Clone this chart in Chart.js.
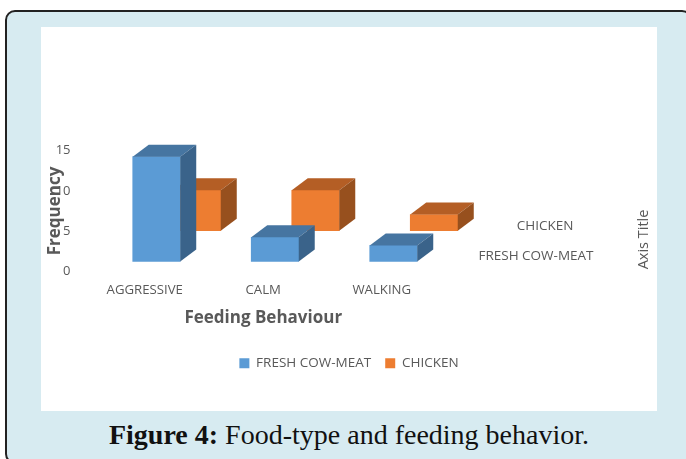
<!DOCTYPE html>
<html>
<head>
    <style>
        body, html {
            width: 686px;
            height: 459px;
            margin: 0;
            overflow: hidden;
            background: #ffffff;
        }

        #card {
            position: absolute;
            left: 5px;
            top: 10px;
            width: 683px;
            height: 450px;
            background: #d7ebf1;
            border: 2px solid #222222;
            border-radius: 10px;
        }

        #chartBox {
            position: absolute;
            left: 41px;
            top: 27px;
            width: 616px;
            height: 384px;
            background: #ffffff;
        }

        #caption {
            position: absolute;
            left: 0;
            top: 419px;
            width: 698px;
            text-align: center;
            font-family: "Liberation Serif", serif;
            font-size: 28px;
            line-height: 32px;
            color: #111111;
        }
    </style>
    <script src="https://cdn.jsdelivr.net/npm/chart.js"></script>
</head>
<body>
    <div id="card"></div>
    <div id="chartBox">
        <canvas id="feedingChart" width="616" height="384"></canvas>
    </div>
    <div id="caption"><b>Figure 4:</b> Food-type and feeding behavior.</div>

    <script>
        const categories = ["AGGRESSIVE", "CALM", "WALKING"];
        const freshCowMeat = [13, 3, 2];
        const chicken = [5, 5, 2];
        const yTicks = [0, 5, 10, 15];

        const textFont = '"Open Sans", sans-serif';
        const textColor = "#595959";

        // how far each face is pushed back, the chart is a flat bar chart with faces added
        const depthX = 16;
        const depthY = 12;

        function shade(ctx, points, color) {
            ctx.fillStyle = color;
            ctx.beginPath();
            points.forEach(function(p, i) {
                if (i === 0) ctx.moveTo(p[0], p[1]);
                else ctx.lineTo(p[0], p[1]);
            });
            ctx.closePath();
            ctx.fill();
        }

        const faces3d = {
            id: "faces3d",
            afterDatasetDraw: function(chart, args) {
                const ctx = chart.ctx;
                const ds = chart.data.datasets[args.index];
                args.meta.data.forEach(function(bar) {
                    const l = bar.x - bar.width / 2;
                    const r = bar.x + bar.width / 2;
                    const t = bar.y;
                    const b = bar.base;
                    shade(ctx, [[l, t], [r, t], [r + depthX, t - depthY], [l + depthX, t - depthY]], ds.topColor);
                    shade(ctx, [[r, t], [r + depthX, t - depthY], [r + depthX, b - depthY], [r, b]], ds.sideColor);
                });
            }
        };

        // labels of the depth axis, on the right of the floor
        const depthAxis = {
            id: "depthAxis",
            afterDraw: function(chart) {
                const ctx = chart.ctx;
                const area = chart.chartArea;
                ctx.save();
                ctx.fillStyle = textColor;
                ctx.font = "13.5px " + textFont;
                ctx.textAlign = "center";
                ctx.textBaseline = "middle";
                ctx.fillText("CHICKEN", area.right + 104, area.bottom - 45);
                ctx.fillText("FRESH COW-MEAT", area.right + 95, area.bottom - 15);
                ctx.font = "14.5px " + textFont;
                ctx.translate(area.right + 203, area.bottom - 32);
                ctx.rotate(-Math.PI / 2);
                ctx.fillText("Axis Title", 0, 0);
                ctx.restore();
            }
        };

        function points(values) {
            return values.map(function(v, i) {
                return { x: i, y: v };
            });
        }

        new Chart(document.getElementById("feedingChart"), {
            type: "bar",
            data: {
                labels: categories,
                datasets: [
                    {
                        label: "FRESH COW-MEAT",
                        data: points(freshCowMeat),
                        backgroundColor: "#5b9bd5",
                        topColor: "#4675a1",
                        sideColor: "#3a638a",
                        xAxisID: "xFront",
                        yAxisID: "yFront",
                        barThickness: 47.5,
                        grouped: false,
                        clip: false
                    },
                    {
                        label: "CHICKEN",
                        data: points(chicken),
                        backgroundColor: "#ed7d31",
                        topColor: "#b45e25",
                        sideColor: "#97501e",
                        xAxisID: "xBack",
                        yAxisID: "yBack",
                        barThickness: 47.5,
                        grouped: false,
                        clip: false
                    }
                ]
            },
            plugins: [faces3d, depthAxis],
            options: {
                responsive: false,
                animation: false,
                layout: {
                    padding: { top: 123.5, right: 0, bottom: 31, left: 0 }
                },
                plugins: {
                    tooltip: { enabled: false },
                    legend: {
                        position: "bottom",
                        labels: {
                            boxWidth: 10,
                            boxHeight: 10,
                            padding: 14,
                            color: textColor,
                            font: { family: textFont, size: 13.5 }
                        }
                    }
                },
                scales: {
                    x: {
                        type: "category",
                        position: "bottom",
                        grid: { display: false, drawTicks: false },
                        border: { display: false },
                        ticks: {
                            color: textColor,
                            padding: 11,
                            maxRotation: 0,
                            font: { family: textFont, size: 13.2 }
                        },
                        title: {
                            display: true,
                            text: "Feeding Behaviour",
                            color: textColor,
                            padding: { top: 10, bottom: 14 },
                            font: { family: textFont, size: 17, weight: "bold" }
                        },
                        afterFit: function(scale) { scale.height = 71; }
                    },
                    y: {
                        position: "left",
                        min: 0,
                        max: 15,
                        afterBuildTicks: function(scale) {
                            scale.ticks = yTicks.map(function(v) { return { value: v }; });
                        },
                        grid: { display: false, drawTicks: false },
                        border: { display: false },
                        ticks: {
                            color: textColor,
                            padding: 15,
                            font: { family: textFont, size: 13 }
                        },
                        title: {
                            display: true,
                            text: "Frequency",
                            color: textColor,
                            padding: { top: 4, bottom: 0 },
                            font: { family: textFont, size: 17, weight: "bold" }
                        },
                        afterFit: function(scale) { scale.width = 44.5; }
                    },
                    // empty axis, keeps the room for the depth labels
                    depthSpace: {
                        position: "right",
                        grid: { display: false, drawTicks: false },
                        border: { display: false },
                        ticks: { display: false },
                        afterFit: function(scale) { scale.width = 216; }
                    },
                    // the two rows of the 3D floor, hidden scales shifted up and right
                    xFront: { type: "linear", display: false, offset: false, min: -0.599, max: 2.401 },
                    xBack: { type: "linear", display: false, offset: false, min: -0.941, max: 2.059 },
                    yFront: { display: false, min: -1.235, max: 13.765 },
                    yBack: { display: false, min: -5.06, max: 9.94 }
                }
            }
        });
    </script>
</body>
</html>
